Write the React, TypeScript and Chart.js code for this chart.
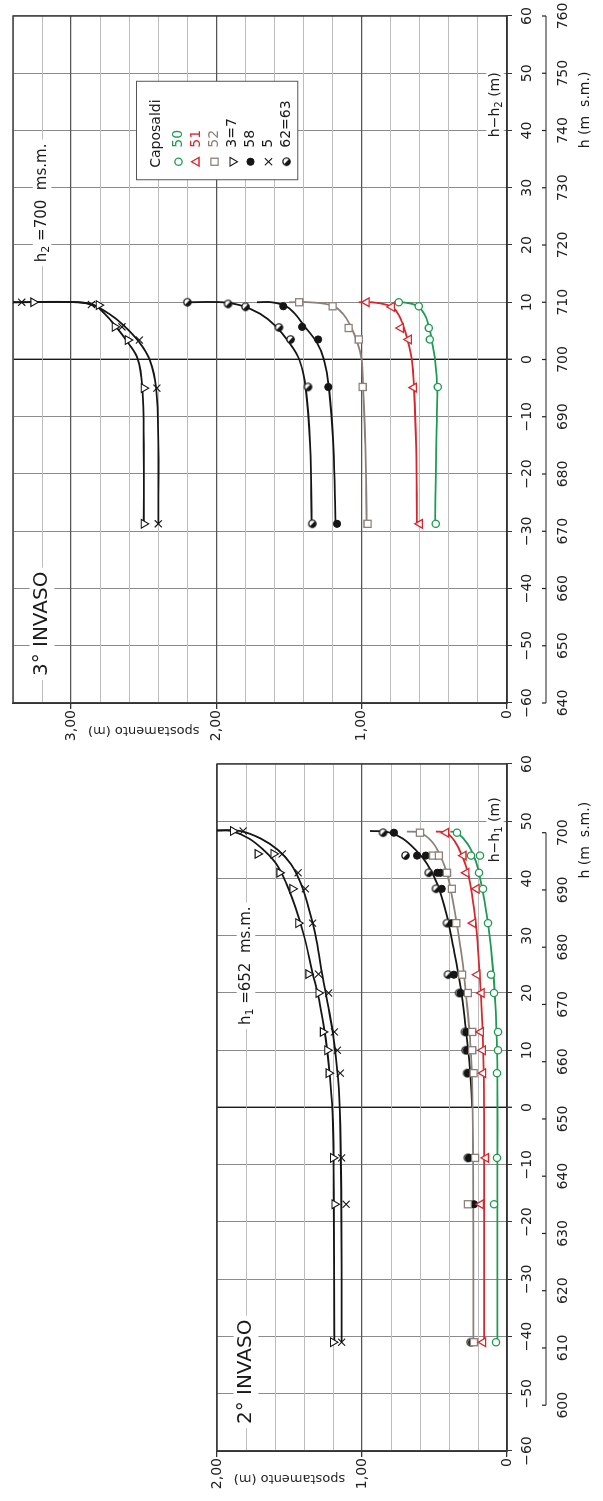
import React, { useEffect, useRef } from 'react';
import { Chart, registerables } from 'chart.js';
Chart.register(...registerables);

const FONT = '"DejaVu Sans", sans-serif';

// reference levels (m s.m.)
const H1 = 652;
const H2 = 700;

// axes
const X_MIN = -60;
const X_MAX = 60;
const X_STEP = 10;
const Y_STEP = 0.2;
const Y2_MAX = 2.0;
const Y3_MAX = 3.4;
const ABS_TICKS_2 = [600, 610, 620, 630, 640, 650, 660, 670, 680, 690, 700];
const ABS_TICKS_3 = [640, 650, 660, 670, 680, 690, 700, 710, 720, 730, 740, 750, 760];

// legend
const SERIES_NAMES = ['50', '51', '52', '3=7', '58', '5', '62=63'];
const GREEN = '#1e9a52';
const RED = '#d8262c';
const GRAY = '#8c817a';
const BLACK = '#151515';
const SERIES_COLORS = [GREEN, RED, GRAY, BLACK, BLACK, BLACK, BLACK];

// ---------- 2° INVASO : [h - h1 (m), spostamento (m)] ----------
const inv2_p50 = [[48, 0.345], [44, 0.248], [44, 0.186], [41, 0.193], [38.2, 0.166], [32.2, 0.131], [23.2, 0.11], [20, 0.09], [13.2, 0.062], [10, 0.062], [6, 0.069], [-8.8, 0.069], [-16.9, 0.09], [-41, 0.076]];
const inv2_p51 = [[48, 0.42], [44, 0.3], [41, 0.28], [38.2, 0.21], [32.2, 0.234], [23.2, 0.205], [20, 0.175], [13.2, 0.18], [10, 0.167], [6, 0.164], [-8.8, 0.145], [-16.9, 0.18], [-41, 0.164]];
const inv2_p52 = [[48, 0.6], [44, 0.51], [44, 0.47], [41, 0.414], [38.2, 0.38], [32.2, 0.35], [23.2, 0.31], [20, 0.27], [13.2, 0.24], [10, 0.24], [6, 0.23], [-8.8, 0.22], [-16.9, 0.27], [-41, 0.228]];
const inv2_p37 = [[48.3, 1.89], [44.3, 1.72], [44.3, 1.61], [41, 1.57], [38.2, 1.48], [32.2, 1.44], [23.3, 1.37], [20, 1.3], [13.2, 1.27], [10, 1.24], [6, 1.23], [-8.8, 1.2], [-16.9, 1.19], [-41, 1.2]];
const inv2_p58 = [[48, 0.78], [44, 0.62], [44, 0.56], [41, 0.48], [41, 0.46], [38.2, 0.45], [32.2, 0.38], [23.2, 0.366], [20, 0.32], [13.2, 0.28], [10, 0.276], [6, 0.269], [-8.8, 0.262], [-16.9, 0.228], [-41, 0.24]];
const inv2_p5 = [[48.3, 1.82], [44.3, 1.55], [41, 1.44], [38.2, 1.39], [32.2, 1.34], [23.3, 1.3], [20, 1.23], [13.2, 1.19], [10, 1.17], [6, 1.15], [-8.8, 1.14], [-16.9, 1.11], [-41, 1.14]];
const inv2_p62 = [[48, 0.855], [44, 0.7], [41, 0.54], [38.2, 0.49], [32.2, 0.414], [23.2, 0.407], [20, 0.33], [13.2, 0.29], [10, 0.285], [6, 0.275], [-8.8, 0.27], [-41, 0.25]];

// fitted curves (2°)
const inv2_c50 = [[48.2, 0.39], [48, 0.345], [46, 0.27], [43, 0.215], [40, 0.185], [36, 0.155], [31, 0.125], [25, 0.1], [18, 0.08], [11, 0.07], [4, 0.066], [-10, 0.066], [-41, 0.067]];
const inv2_c51 = [[48.2, 0.49], [48, 0.42], [46.5, 0.36], [44, 0.31], [41, 0.27], [37, 0.24], [32, 0.215], [26, 0.195], [19, 0.178], [12, 0.166], [5, 0.16], [-10, 0.158], [-41, 0.158]];
const inv2_c52 = [[48.2, 0.69], [48, 0.6], [46.5, 0.52], [44, 0.46], [41, 0.415], [37, 0.38], [32, 0.345], [26, 0.31], [19, 0.28], [12, 0.255], [5, 0.24], [-10, 0.234], [-41, 0.232]];
const inv2_c58 = [[48.3, 0.945], [48.1, 0.82], [47, 0.72], [45, 0.63], [42.5, 0.55], [39, 0.48], [34, 0.42], [28, 0.37], [21, 0.32], [14, 0.285], [8, 0.26], [3, 0.245], [0, 0.24]];
const inv2_c37 = [[48.4, 2.0], [48.3, 1.9], [47, 1.78], [45, 1.68], [42.5, 1.59], [39, 1.52], [35, 1.46], [30, 1.4], [24, 1.345], [18, 1.29], [12, 1.25], [5, 1.22], [-3, 1.2], [-15, 1.195], [-41, 1.19]];
const inv2_c5 = [[48.4, 2.0], [48.3, 1.84], [47, 1.7], [45, 1.58], [42.5, 1.49], [39, 1.42], [35, 1.37], [30, 1.32], [24, 1.28], [18, 1.235], [12, 1.195], [5, 1.165], [-3, 1.15], [-15, 1.143], [-41, 1.14]];

// ---------- 3° INVASO : [h - h2 (m), spostamento (m)] ----------
const inv3_p50 = [[10, 0.745], [9.3, 0.607], [5.5, 0.538], [3.5, 0.531], [-4.8, 0.476], [-28.7, 0.49]];
const inv3_p51 = [[10, 0.966], [9.2, 0.793], [5.5, 0.731], [3.5, 0.676], [-4.9, 0.641], [-28.7, 0.6]];
const inv3_p52 = [[10, 1.43], [9.3, 1.2], [5.5, 1.09], [3.5, 1.02], [-4.8, 0.993], [-28.7, 0.96]];
const inv3_p37 = [[10, 3.26], [9.5, 2.81], [5.7, 2.7], [3.4, 2.61], [-5, 2.5], [-28.7, 2.5]];
const inv3_p58 = [[9.3, 1.54], [5.7, 1.41], [3.5, 1.3], [-4.8, 1.23], [-28.7, 1.17]];
const inv3_p5 = [[10, 3.34], [9.6, 2.86], [5.7, 2.65], [3.4, 2.53], [-5, 2.41], [-28.7, 2.4]];
const inv3_p62 = [[10, 2.2], [9.7, 1.92], [9.2, 1.8], [5.6, 1.57], [3.5, 1.49], [-4.8, 1.37], [-28.7, 1.34]];

// fitted curves (3°)
const inv3_c50 = [[10, 0.78], [10, 0.72], [9.4, 0.62], [8, 0.57], [6, 0.54], [3, 0.515], [0, 0.495], [-5, 0.48], [-12, 0.485], [-20, 0.49], [-28.7, 0.495]];
const inv3_c51 = [[10, 1.02], [10, 0.93], [9.3, 0.8], [8, 0.75], [6, 0.715], [3, 0.68], [0, 0.655], [-5, 0.64], [-15, 0.625], [-28.7, 0.62]];
const inv3_c52 = [[10, 1.5], [10, 1.36], [9.4, 1.2], [8, 1.13], [6, 1.08], [3, 1.03], [0, 1.0], [-5, 0.99], [-15, 0.975], [-28.7, 0.966]];
const inv3_c58 = [[10, 1.72], [10, 1.62], [9.3, 1.52], [8, 1.46], [6, 1.4], [3, 1.31], [0, 1.26], [-5, 1.225], [-15, 1.195], [-28.7, 1.18]];
const inv3_c62 = [[10, 2.2], [10, 1.96], [9.5, 1.84], [8, 1.7], [6, 1.6], [3, 1.5], [0, 1.43], [-5, 1.385], [-15, 1.355], [-28.7, 1.345]];
const inv3_c37 = [[10, 3.4], [10, 2.95], [9.5, 2.84], [8, 2.77], [6, 2.7], [3, 2.61], [0, 2.54], [-5, 2.51], [-15, 2.5], [-28.7, 2.5]];
const inv3_c5 = [[10, 3.4], [10, 2.95], [9.4, 2.84], [8, 2.74], [6, 2.64], [3, 2.53], [0, 2.46], [-5, 2.415], [-15, 2.4], [-28.7, 2.4]];

// ---------------------------------------------------------------
type Pt = number[];
const STYLES: any[] = [
  { style: 'circle', r: 3.6, rot: 0, fill: '#fff', color: GREEN, bw: 1.3 },
  { style: 'triangle', r: 5, rot: 0, fill: '#fff', color: RED, bw: 1.3 },
  { style: 'rect', r: 5, rot: 0, fill: '#fff', color: GRAY, bw: 1.3 },
  { style: 'triangle', r: 5, rot: 180, fill: '#fff', color: BLACK, bw: 1.1 },
  { style: 'circle', r: 3.6, rot: 0, fill: BLACK, color: BLACK, bw: 1 },
  { style: 'crossRot', r: 5, rot: 0, fill: BLACK, color: BLACK, bw: 1.1 },
  { style: 'half', r: 4, rot: 0, fill: '#fff', color: BLACK, bw: 1.1 },
];

function makeHalf(): HTMLCanvasElement {
  const c = document.createElement('canvas');
  c.width = 11; c.height = 11;
  const g = c.getContext('2d')!;
  g.beginPath(); g.arc(5.5, 5.5, 3.7, 0, Math.PI * 2); g.fillStyle = '#fff'; g.fill();
  g.beginPath(); g.moveTo(5.5, 5.5); g.arc(5.5, 5.5, 3.7, Math.PI * 0.25, Math.PI * 1.25); g.closePath(); g.fillStyle = BLACK; g.fill();
  g.beginPath(); g.arc(5.5, 5.5, 3.7, 0, Math.PI * 2); g.lineWidth = 1.2; g.strokeStyle = BLACK; g.stroke();
  return c;
}

function toXY(pts: Pt[]) { return pts.map(([x, y]) => ({ x, y })); }

function pointDs(pts: Pt[], k: number, half: HTMLCanvasElement) {
  const st = STYLES[k];
  return {
    data: toXY(pts), showLine: false, order: 0,
    pointStyle: k === 6 ? half : st.style, pointRadius: st.r, pointRotation: st.rot,
    pointBackgroundColor: st.fill, pointBorderColor: st.color, pointBorderWidth: st.bw,
  };
}
function curveDs(pts: Pt[], k: number) {
  return {
    data: toXY(pts), showLine: true, order: 1, pointRadius: 0, borderColor: SERIES_COLORS[k],
    borderWidth: 1.8, tension: 0.4, fill: false,
  };
}

const isInt = (v: number) => Math.abs(v - Math.round(v)) < 1e-6;
const fmtH = (v: number) => (v < 0 ? '\u2212' + Math.abs(v) : String(v));
const fmtS = (v: number) => {
  if (!isInt(v)) return '';
  const r = Math.round(v);
  return r === 0 ? '0' : r.toFixed(2).replace('.', ',');
};

type Part = { t: string; sub?: boolean };
function drawRich(ctx: CanvasRenderingContext2D, parts: Part[], x: number, y: number, size: number, align: 'left' | 'center', bg: boolean) {
  const main = `${size}px ${FONT}`;
  const small = `${Math.round(size * 0.72)}px ${FONT}`;
  let w = 0;
  const ws = parts.map((p) => { ctx.font = p.sub ? small : main; const m = ctx.measureText(p.t).width; w += m; return m; });
  let sx = align === 'center' ? x - w / 2 : x;
  if (bg) { ctx.fillStyle = '#fff'; ctx.fillRect(sx - 4, y - size * 0.62, w + 8, size * 1.24); }
  ctx.textBaseline = 'middle'; ctx.textAlign = 'left'; ctx.fillStyle = '#1a1a1a';
  parts.forEach((p, i) => { ctx.font = p.sub ? small : main; ctx.fillText(p.t, sx, p.sub ? y + size * 0.3 : y); sx += ws[i]; });
}

function drawMarker(ctx: CanvasRenderingContext2D, k: number, x: number, y: number, half: HTMLCanvasElement) {
  const st = STYLES[k];
  ctx.save();
  if (k === 6) { ctx.drawImage(half, x - half.width / 2, y - half.height / 2); ctx.restore(); return; }
  ctx.lineWidth = st.bw; ctx.strokeStyle = st.color; ctx.fillStyle = st.fill;
  ctx.beginPath();
  if (st.style === 'circle') ctx.arc(x, y, st.r, 0, Math.PI * 2);
  else if (st.style === 'triangle') {
    let a = (st.rot * Math.PI) / 180;
    for (let i = 0; i < 3; i++) { const px = x + Math.sin(a) * st.r, py = y - Math.cos(a) * st.r; if (i === 0) ctx.moveTo(px, py); else ctx.lineTo(px, py); a += (2 * Math.PI) / 3; }
    ctx.closePath();
  } else if (st.style === 'rect') { const s = st.r * Math.SQRT1_2; ctx.rect(x - s, y - s, 2 * s, 2 * s); }
  else if (st.style === 'crossRot') { const s = st.r * Math.SQRT1_2; ctx.moveTo(x - s, y - s); ctx.lineTo(x + s, y + s); ctx.moveTo(x + s, y - s); ctx.lineTo(x - s, y + s); }
  if (st.style !== 'crossRot') ctx.fill();
  ctx.stroke();
  ctx.restore();
}

type PanelCfg = {
  offset: number; width: number; left: number; top: number; right: number; ymax: number;
  h0: number; absTicks: number[]; sub: string; invaso: string; legend: boolean;
  points: Pt[][]; curves: [Pt[], number][]; yTitleS: number; relTitleH: number; absTitleH: number; refH: number; invasoS: number;
};

const PANEL2: PanelCfg = {
  offset: 0, width: 760, left: 50, top: 217, right: 23, ymax: Y2_MAX, h0: H1, absTicks: ABS_TICKS_2, sub: '1', invaso: '2° INVASO', legend: false,
  points: [inv2_p50, inv2_p51, inv2_p52, inv2_p37, inv2_p58, inv2_p5, inv2_p62],
  curves: [[inv2_c50, 0], [inv2_c51, 1], [inv2_c52, 2], [inv2_c58, 4], [inv2_c37, 3], [inv2_c5, 5]],
  yTitleS: 1.5, relTitleH: 48.5, absTitleH: 46.7, refH: 14.4, invasoS: 1.8,
};
const PANEL3: PanelCfg = {
  offset: 740, width: 761, left: 58, top: 13, right: 16, ymax: Y3_MAX, h0: H2, absTicks: ABS_TICKS_3, sub: '2', invaso: '3° INVASO', legend: true,
  points: [inv3_p50, inv3_p51, inv3_p52, inv3_p37, inv3_p58, inv3_p5, inv3_p62],
  curves: [[inv3_c50, 0], [inv3_c51, 1], [inv3_c52, 2], [inv3_c58, 4], [inv3_c62, 6], [inv3_c37, 3], [inv3_c5, 5]],
  yTitleS: 2.5, relTitleH: 44.5, absTitleH: 43.6, refH: 17.0, invasoS: 3.2,
};

function buildConfig(cfg: PanelCfg, half: HTMLCanvasElement): any {
  const datasets: any[] = [];
  cfg.points.forEach((p, k) => datasets.push(pointDs(p, k, half)));
  cfg.curves.forEach(([c, k]) => datasets.push(curveDs(c, k)));

  const decor = {
    id: 'decor',
    beforeDatasetsDraw(chart: any) {
      const { ctx, chartArea: a } = chart;
      ctx.save(); ctx.strokeStyle = '#333'; ctx.lineWidth = 1.4;
      ctx.strokeRect(a.left, a.top, a.right - a.left, a.bottom - a.top);
      ctx.restore();
    },
    afterDraw(chart: any) {
      const { ctx, chartArea: a } = chart;
      const xs = chart.scales.x, ys = chart.scales.y;
      ctx.save();
      // secondary axis h (m s.m.)
      const yl = a.bottom + 39;
      ctx.strokeStyle = '#222'; ctx.lineWidth = 1.2; ctx.beginPath();
      const xa = xs.getPixelForValue(cfg.absTicks[0] - cfg.h0);
      const xb = xs.getPixelForValue(cfg.absTicks[cfg.absTicks.length - 1] - cfg.h0);
      ctx.moveTo(xa, yl); ctx.lineTo(xb, yl);
      cfg.absTicks.forEach((v) => { const px = xs.getPixelForValue(v - cfg.h0); ctx.moveTo(px, yl); ctx.lineTo(px, yl - 4); });
      ctx.stroke();
      ctx.fillStyle = '#222'; ctx.font = `14px ${FONT}`; ctx.textAlign = 'center'; ctx.textBaseline = 'middle';
      cfg.absTicks.forEach((v) => ctx.fillText(String(v), xs.getPixelForValue(v - cfg.h0), yl + 17));
      // axis titles
      drawRich(ctx, [{ t: 'h (m  s.m.)' }], xs.getPixelForValue(cfg.absTitleH), a.bottom + 78, 14, 'center', false);
      drawRich(ctx, [{ t: 'h\u2212h' }, { t: cfg.sub, sub: true }, { t: ' (m)' }], xs.getPixelForValue(cfg.relTitleH), a.bottom - 12, 14, 'center', true);
      // y title
      ctx.save();
      ctx.translate(a.left - 27, ys.getPixelForValue(cfg.yTitleS));
      ctx.rotate(-Math.PI / 2);
      ctx.font = `13px ${FONT}`; ctx.fillStyle = '#222'; ctx.textAlign = 'center'; ctx.textBaseline = 'middle';
      ctx.fillText('spostamento (m)', 0, 0);
      ctx.restore();
      // annotations
      drawRich(ctx, [{ t: cfg.invaso }], xs.getPixelForValue(-55.3), ys.getPixelForValue(cfg.invasoS), 20, 'left', true);
      drawRich(ctx, [{ t: 'h' }, { t: cfg.sub, sub: true }, { t: ' =' + cfg.h0 + '  ms.m.' }], xs.getPixelForValue(cfg.refH), ys.getPixelForValue(cfg.invasoS), 15, 'left', true);
      // legend
      if (cfg.legend) {
        const bx = xs.getPixelForValue(31.4), by = ys.getPixelForValue(2.55);
        const bw = xs.getPixelForValue(48.6) - bx, bh = ys.getPixelForValue(1.44) - by;
        ctx.fillStyle = '#fff'; ctx.fillRect(bx, by, bw, bh);
        ctx.strokeStyle = '#555'; ctx.lineWidth = 1; ctx.strokeRect(bx, by, bw, bh);
        ctx.font = `14px ${FONT}`; ctx.textAlign = 'left'; ctx.textBaseline = 'middle'; ctx.fillStyle = '#1a1a1a';
        ctx.fillText('Caposaldi', bx + 12, by + 20);
        SERIES_NAMES.forEach((n, k) => {
          const ry = by + 42 + k * 18;
          drawMarker(ctx, k, bx + 18, ry, half);
          ctx.fillStyle = k < 3 ? SERIES_COLORS[k] : '#1a1a1a';
          ctx.font = `14px ${FONT}`; ctx.textAlign = 'left'; ctx.textBaseline = 'middle';
          ctx.fillText(n, bx + 32, ry);
        });
      }
      ctx.restore();
    },
  };

  return {
    type: 'scatter',
    data: { datasets },
    plugins: [decor],
    options: {
      responsive: false, animation: false, events: [],
      layout: { padding: { left: 0, top: cfg.top, right: cfg.right, bottom: 0 } },
      plugins: { legend: { display: false }, tooltip: { enabled: false } },
      scales: {
        x: {
          type: 'linear', position: 'bottom', min: X_MIN, max: X_MAX,
          ticks: { stepSize: X_STEP, autoSkip: false, maxRotation: 0, padding: 7, color: '#222', font: { family: FONT, size: 14 }, callback: (v: number) => fmtH(v) },
          grid: {
            color: (c: any) => (c.tick && c.tick.value === 0 ? '#1a1a1a' : '#8a8a8a'),
            lineWidth: (c: any) => (c.tick && c.tick.value === 0 ? 1.4 : 1),
            tickLength: 5, tickColor: '#333',
          },
          border: { display: true, color: '#333', width: 1.4 },
          afterFit: (s: any) => { s.height = 96; },
        },
        y: {
          type: 'linear', position: 'left', min: 0, max: cfg.ymax,
          ticks: { stepSize: Y_STEP, autoSkip: false, padding: 1, color: '#222', font: { family: FONT, size: 14 }, callback: (v: number) => fmtS(v) },
          grid: {
            color: (c: any) => (c.tick && isInt(c.tick.value) ? '#555' : '#bdbdbd'),
            lineWidth: (c: any) => (c.tick && isInt(c.tick.value) ? 1.3 : 1),
            tickLength: 6,
            tickColor: (c: any) => (c.tick && isInt(c.tick.value) ? '#333' : 'rgba(0,0,0,0)'),
          },
          border: { display: true, color: '#333', width: 1.4 },
          afterFit: (s: any) => { s.width = cfg.left; },
        },
      },
    },
  };
}

function Panel({ cfg }: { cfg: PanelCfg }) {
  const ref = useRef<HTMLCanvasElement>(null);
  useEffect(() => {
    const half = makeHalf();
    const chart = new Chart(ref.current!, buildConfig(cfg, half));
    return () => chart.destroy();
  }, []);
  return (
    <canvas ref={ref} width={cfg.width} height={603}
      style={{ position: 'absolute', left: cfg.offset, top: 0, width: cfg.width, height: 603 }} />
  );
}

export default function App() {
  return (
    <div style={{ position: 'fixed', left: 0, top: 0, width: 1501, height: 603, transformOrigin: '0 0', transform: 'translate(0px, 1501px) rotate(-90deg)', background: '#fff', overflow: 'hidden' }}>
      <Panel cfg={PANEL2} />
      <Panel cfg={PANEL3} />
    </div>
  );
}
